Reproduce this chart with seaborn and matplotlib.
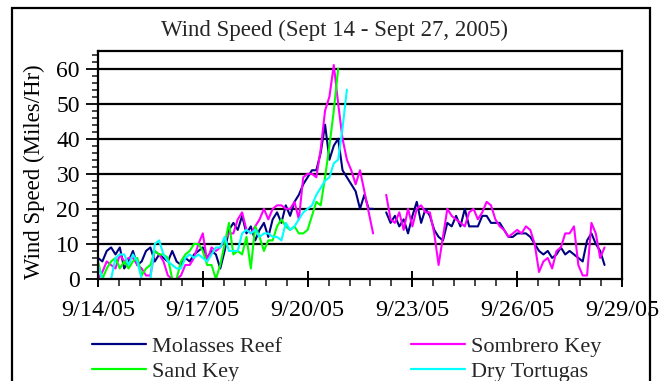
"""Wind speed at four Florida Keys stations, Sept 14 - Sept 27, 2005."""

import numpy as np
import pandas as pd
import matplotlib
matplotlib.use("Agg")
import matplotlib.pyplot as plt
import matplotlib.dates as mdates
from matplotlib.lines import Line2D
from matplotlib.patches import Rectangle
from matplotlib.ticker import FixedLocator, MultipleLocator, FuncFormatter
import seaborn as sns

nan = np.nan

# readings every 3 hours starting 9/14/05 00:00 (miles/hr), nan = no data
molasses_reef = [
    6, 5, 8, 9, 7, 9, 3, 5, 8, 4, 5, 8, 9, 5, 7, 6,
    5, 8, 5, 4, 6, 5, 7, 8, 9, 6, 8, 7, 3, 8, 14, 16,
    14, 18, 13, 15, 11, 14, 16, 12, 17, 19, 16, 21, 18, 22, 24, 27,
    29, 31, 31, 36, 44, 34, 38, 40, 31, 29, 27, 25, 20, 24, 20, 20,
    nan, nan, 19, 16, 18, 15, 17, 13, 18, 22, 16, 20, 18, 14, 12, 11,
    16, 15, 18, 15, 20, 15, 15, 15, 18, 18, 16, 16, 16, 14, 12, 12,
    13, 13, 13, 12, 10, 8, 7, 8, 6, 7, 9, 7, 8, 7, 6, 5,
    11, 13, 10, 8, 4,
]
sombrero_key = [
    0, 2, 5, 4, 3, 7, 5, 6, 6, 4, 3, 1, 1, 8, 7, 5,
    1, 0, 0, 1, 4, 4, 6, 10, 13, 5, 9, 8, 9, 11, 13, 13,
    17, 19, 14, 13, 15, 17, 20, 17, 20, 21, 21, 20, 20, 22, 17, 29,
    30, 30, 29, 37, 48, 52, 61, 50, 40, 34, 31, 27, 31, 25, 19, 13,
    nan, nan, 24, 17, 16, 19, 14, 20, 15, 20, 21, 19, 19, 13, 4, 12,
    20, 18, 17, 16, 15, 19, 20, 17, 19, 22, 21, 17, 15, 14, 12, 13,
    14, 13, 15, 14, 10, 2, 5, 6, 3, 8, 9, 13, 13, 15, 4, 1,
    1, 16, 13, 6, 9,
]
sand_key = [
    5, 0, 3, 5, 6, 3, 5, 3, 5, 6, 1, 3, 4, 8, 7, 7,
    6, 0, 0, 5, 7, 8, 10, 10, 8, 4, 4, 0, 4, 10, 16, 7,
    8, 7, 12, 3, 15, 12, 8, 11, 11, 15, 17, 15, 14, 15, 13, 13,
    14, 18, 22, 21, 29, 38, 48, 60,
]
dry_tortugas = [
    4, 0, 0, 0, 6, 7, 7, 4, 7, 5, 0, 0, 0, 10, 11, 7,
    5, 4, 3, 3, 6, 7, 6, 7, 6, 5, 7, 9, 9, 12, 8, 8,
    8, 13, 14, 13, 14, 12, 13, 13, 12, 12, 11, 16, 14, 15, 17, 19,
    20, 21, 24, 26, 28, 29, 33, 34, 43, 54,
]

series = {
    "Molasses Reef": molasses_reef,
    "Sombrero Key": sombrero_key,
    "Sand Key": sand_key,
    "Dry Tortugas": dry_tortugas,
}
colors = {
    "Molasses Reef": "#000080",
    "Sombrero Key": "#ff00ff",
    "Sand Key": "#00ff00",
    "Dry Tortugas": "#00ffff",
}
tick_dates = ["2005-09-14", "2005-09-17", "2005-09-20",
              "2005-09-23", "2005-09-26", "2005-09-29"]

# long frame; a new segment id starts after every gap so lines break there
rows = []
start = pd.Timestamp("2005-09-14")
for site, vals in series.items():
    seg = 0
    for i, v in enumerate(vals):
        if np.isnan(v):
            seg += 1
            continue
        rows.append((start + pd.Timedelta(hours=3 * i), v, site, seg))
df = pd.DataFrame(rows, columns=["time", "speed", "site", "seg"])

sns.set_theme(style="ticks")
plt.rcParams["font.family"] = ["Liberation Serif", "DejaVu Serif"]

fig = plt.figure(figsize=(6.61, 3.81), dpi=100)
ax = fig.add_axes([98 / 661, 1 - 279 / 381, 524 / 661, 228 / 381])

sns.lineplot(data=df, x="time", y="speed", hue="site", units="seg",
             estimator=None, palette=colors, hue_order=list(series),
             linewidth=1.5, legend=False, ax=ax)

# axes limits and ticks
t0 = mdates.date2num(pd.Timestamp(tick_dates[0]))
t1 = mdates.date2num(pd.Timestamp(tick_dates[-1]))
ax.set_xlim(t0, t1)
ax.set_ylim(0, 65)
ax.xaxis.set_major_locator(FixedLocator([mdates.date2num(pd.Timestamp(d)) for d in tick_dates]))
ax.xaxis.set_minor_locator(FixedLocator(np.arange(t0, t1 + 0.01, 0.6)))
ax.xaxis.set_major_formatter(FuncFormatter(
    lambda v, p: "{d.month}/{d.day}/{y}".format(d=mdates.num2date(v), y=mdates.num2date(v).strftime("%y"))))
ax.yaxis.set_major_locator(MultipleLocator(10))
ax.yaxis.set_minor_locator(MultipleLocator(2))

ax.tick_params(axis="x", which="major", direction="inout", length=12, width=1.4,
               labelsize=17.5, pad=9, colors="black")
ax.tick_params(axis="x", which="minor", direction="out", length=5, width=1.2)
ax.tick_params(axis="y", which="major", direction="out", length=9, width=1.3,
               labelsize=17, pad=4, colors="black")
ax.tick_params(axis="y", which="minor", direction="out", length=4, width=1.2)

ax.grid(axis="y", which="major", color="black", linewidth=1.6)
ax.get_ygridlines()[1].set_linewidth(0.9)
for s in ax.spines.values():
    s.set_visible(True)
    s.set_color("black")
    s.set_linewidth(1.6)

ax.set_xlabel("")
ax.set_ylabel("Wind Speed (Miles/Hr)", fontsize=16.4, color="black")
ax.yaxis.set_label_coords(-0.101, 0.47)

fig.text(335 / 661, 1 - 30 / 381, "Wind Speed (Sept 14 - Sept 27, 2005)",
         ha="center", va="center", fontsize=16.5)

# legend below the plot, two columns
order = ["Molasses Reef", "Sand Key", "Sombrero Key", "Dry Tortugas"]
handles = [Line2D([], [], color=colors[n], linewidth=1.6) for n in order]
fig.legend(handles, order, ncol=2, loc="upper left",
           bbox_to_anchor=(92 / 661, 1 - 336 / 381), frameon=False,
           fontsize=16, handlelength=2.45, handletextpad=0.25,
           columnspacing=5.8, labelspacing=0.2, borderpad=0, borderaxespad=0)

# outer chart frame
fig.add_artist(Rectangle((12 / 661, -0.05), 638 / 661, 0.05 + 1 - 8 / 381,
                         transform=fig.transFigure, fill=False,
                         edgecolor="black", linewidth=1.6))

fig.savefig("out.png", dpi=100)
plt.close(fig)
